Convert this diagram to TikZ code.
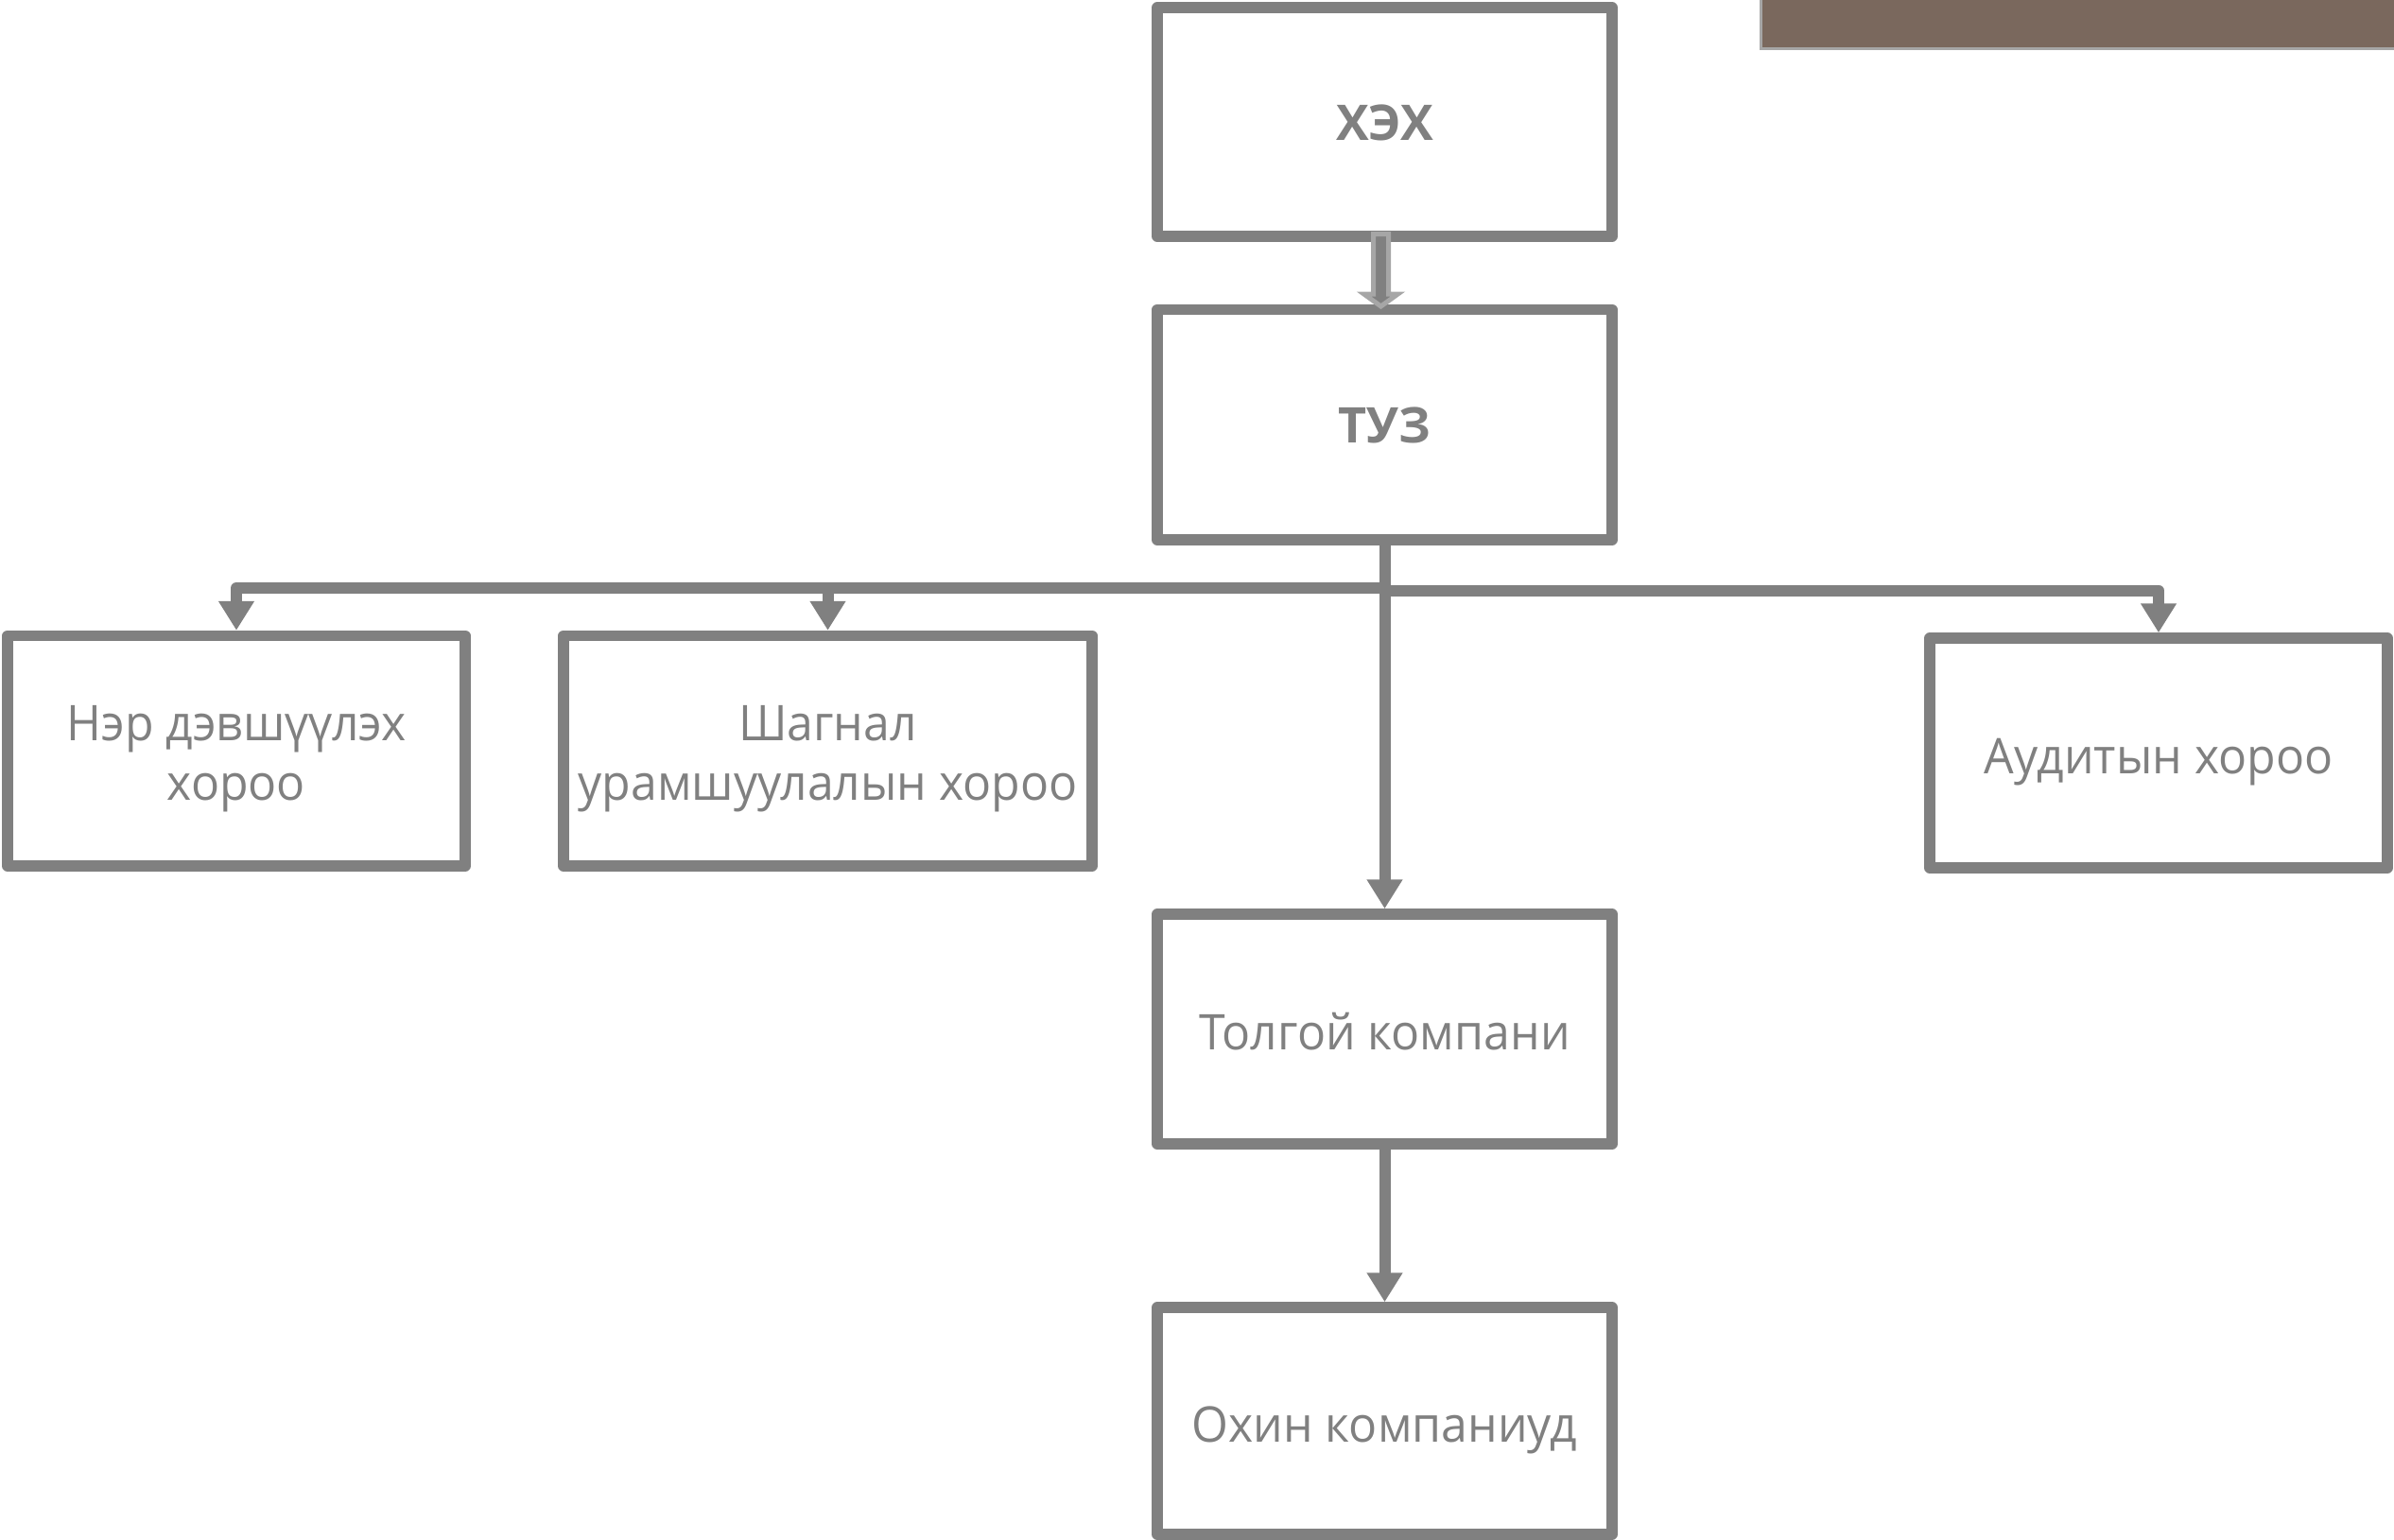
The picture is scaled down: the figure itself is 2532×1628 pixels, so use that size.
\documentclass[tikz,border=0pt]{standalone}
\usepackage{fontspec}
\setmainfont{Open Sans}
\newfontfamily\regfont{Open Sans}[FakeStretch=0.96]
\usetikzlibrary{arrows.meta}
\definecolor{lg}{HTML}{808080}
\definecolor{lightg}{HTML}{A6A6A6}
\definecolor{barbrown}{HTML}{7A685D}
\begin{document}
\begin{tikzpicture}[x=1pt,y=-1pt,
  box/.style={draw=lg, line width=11.5pt, fill=white, line join=round,
    inner sep=0pt, align=center, text=lg,
    text height=44pt, text depth=0pt,
    font=\regfont\fontsize{52}{63}\selectfont},
  twoline/.style={text height=104pt},
  boldbox/.style={box, text height=38pt, font=\fontsize{52}{63}\selectfont\bfseries},
  conn/.style={draw=lg, line width=12pt, line join=round,
    -{Triangle[width=36pt,length=31pt]}}]
\useasboundingbox (0,0) rectangle (2532,1628);
\clip (0,0) rectangle (2532,1628);
% brown bar top right
\draw[draw=lightg, line width=3pt, fill=barbrown] (1862.5,-10) rectangle (2545,51);
% boxes
\node[boldbox, minimum width=481pt, minimum height=242pt] (hex) at (1464.5,129) {ХЭХ};
\node[boldbox, minimum width=481pt, minimum height=243.5pt] (tuz) at (1464.5,449.25) {ТУЗ};
\node[box, twoline, minimum width=484pt, minimum height=243.5pt] (ner) at (250,794.25) {Нэр дэвшүүлэх\\хороо};
\node[box, twoline, minimum width=559pt, minimum height=243.5pt] (shag) at (875.5,794.25) {Шагнал\\урамшуулалын хороо};
\node[box, minimum width=484pt, minimum height=243pt] (aud) at (2283,796.5) {Аудитын хороо};
\node[box, minimum width=481pt, minimum height=243pt] (tol) at (1464.5,1088.5) {Толгой компани};
\node[box, minimum width=481pt, minimum height=240pt] (okh) at (1464.5,1503) {Охин компаниуд};
% bus coordinates
\coordinate (busL) at (1464.5,622);
\coordinate (busR) at (1464.5,624.5);
% connectors
\draw[conn] (tuz.south) -- (busL) -| (ner.north);
\draw[conn] (busL) -| (shag.north);
\draw[conn] (busR) -| (aud.north);
\draw[conn] (tuz.south) -- (tol.north);
\draw[conn] (tol.south) -- (okh.north);
% block arrow between ХЭХ and ТУЗ
\coordinate (ba) at (1460.5,247.5);
\draw[draw=lightg, fill=lg, line width=5pt, line join=miter]
  (ba) ++(-8,0) -- ++(16,0) -- ++(0,63.5) -- ++(10,0) -- (1460.5,324)
  -- (1442.5,311) -- (1452.5,311) -- cycle;
\end{tikzpicture}
\end{document}
